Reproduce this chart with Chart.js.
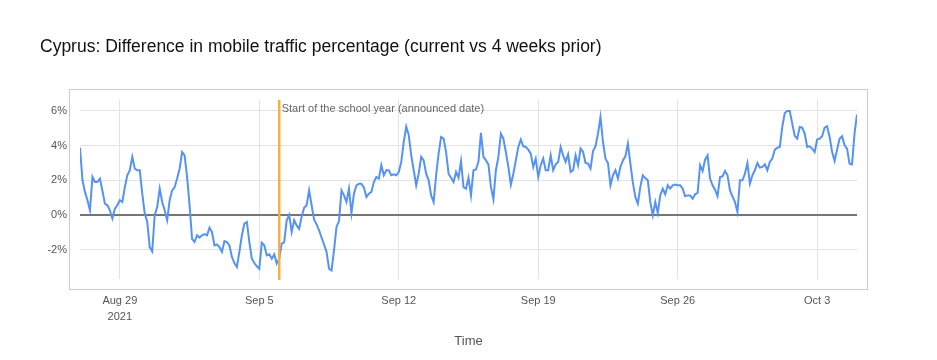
<!DOCTYPE html>
<html>
<head>
<meta charset="utf-8">
<script src="https://cdn.jsdelivr.net/npm/chart.js@4.4.0/dist/chart.umd.min.js"></script>
<style>
  html, body { margin: 0; padding: 0; background: #fff; }
  #wrap { width: 937px; height: 360px; }
</style>
</head>
<body>
<div id="wrap"><canvas id="chart" width="937" height="360"></canvas></div>
<script>
// days counted from Aug 29 2021 00:00; one reading every 3 hours starting Aug 27
const seriesStartDay = -2;
const stepDays = 0.125;

const traffic = [
  3.88, 2.0, 1.33, 0.85, 0.27, 2.2, 1.9, 1.9, 2.1, 1.4, 0.65, 0.56, 0.27, -0.2, 0.37, 0.56,
  0.85, 0.75, 1.6, 2.29, 2.58, 3.35, 2.67, 2.58, 2.58, 1.23, 0.08, -0.4, -1.85, -2.1, 0, 0.46,
  1.52, 0.75, 0.27, -0.3, 0.85, 1.42, 1.6, 2.1, 2.67, 3.63, 3.44, 2.2, 0.56, -1.37, -1.56, -1.17,
  -1.3, -1.17, -1.1, -1.17, -0.73, -0.98, -1.75, -1.7, -1.85, -2.13, -1.5, -1.56, -1.75, -2.42, -2.77, -3.0,
  -2.13, -1.17, -0.5, -0.4, -1.56, -2.52, -2.77, -2.96, -3.1, -1.6, -1.75, -2.33, -2.27, -2.52, -2.27, -2.8,
  -2.52, -1.65, -1.56, -0.3, 0, -0.98, -0.3, -0.6, -0.8, -0.1, 0.42, 0.56, 1.42, 0.56, -0.27, -0.54,
  -0.88, -1.3, -1.7, -2.13, -3.1, -3.2, -2.04, -0.69, -0.35, 1.42, 1.13, 0.75, 1.52, 0.1, 1.23, 1.71,
  1.8, 1.8, 1.58, 1.04, 1.23, 1.33, 1.9, 2.19, 2.1, 2.87, 2.29, 2.58, 2.58, 2.29, 2.35, 2.29,
  2.48, 3.06, 4.21, 5.1, 4.6, 3.44, 2.58, 1.71, 2.38, 3.35, 3.15, 2.38, 2.0, 1.13, 0.75, 2.29,
  3.54, 4.5, 4.4, 3.63, 2.38, 2.15, 1.9, 2.48, 2.15, 3.1, 1.6, 1.52, 2.15, 1.13, 2.58, 2.62,
  3.06, 4.73, 3.35, 3.15, 2.92, 1.62, 0.9, 2.58, 3.35, 4.69, 4.4, 3.63, 2.77, 1.75, 2.38, 3.15,
  3.92, 4.35, 3.96, 3.92, 3.77, 3.54, 2.77, 3.25, 2.19, 2.87, 3.25, 2.58, 2.58, 3.44, 2.58, 2.92,
  3.06, 3.92, 3.44, 3.06, 3.5, 2.48, 2.58, 3.44, 2.87, 3.83, 3.63, 3.0, 2.96, 2.67, 3.69, 3.96,
  4.69, 5.65, 4.21, 3.25, 3.0, 1.71, 2.29, 2.58, 2.1, 2.77, 3.15, 3.38, 4.12, 2.96, 1.87, 1.04,
  0.65, 1.62, 2.29, 2.13, 2.0, 0.75, -0.02, 0.75, 0.12, 1.13, 1.52, 1.19, 1.71, 1.52, 1.71, 1.75,
  1.71, 1.71, 1.52, 1.08, 1.13, 1.13, 0.94, 1.19, 1.27, 2.87, 2.54, 3.19, 3.44, 2.1, 1.71, 1.46,
  1.08, 2.19, 2.23, 2.54, 2.29, 1.42, 1.08, 0.75, 0.17, 2.0, 2.0, 2.38, 3.0, 1.81, 2.29, 2.58,
  3.0, 2.73, 2.77, 2.92, 2.58, 3.06, 3.25, 3.77, 3.88, 3.92, 5.08, 5.88, 6.0, 6.0, 5.27, 4.56,
  4.4, 5.08, 5.04, 4.69, 3.92, 3.96, 3.83, 3.63, 4.35, 4.4, 4.54, 5.04, 5.12, 4.5, 3.65, 3.12,
  3.77, 4.4, 4.54, 4.02, 3.83, 2.96, 2.92, 4.69, 5.8
];

const tickDays = [0, 7, 14, 21, 28, 35];
const tickLabels = [['Aug 29', '2021'], 'Sep 5', 'Sep 12', 'Sep 19', 'Sep 26', 'Oct 3'];
const yTicks = [-2, 0, 2, 4, 6];

const schoolStartDay = 8;
const schoolLabel = 'Start of the school year (announced date)';
const titleText = 'Cyprus: Difference in mobile traffic percentage (current vs 4 weeks prior)';
const xTitle = 'Time';

const FONT = "'Liberation Sans', Arial, Helvetica, sans-serif";

const points = traffic.map((v, i) => ({ x: seriesStartDay + i * stepDays, y: v }));

// title, frame, school-start marker and axis title
const extras = {
  id: 'extras',
  afterDatasetsDraw(chart) {
    const { ctx, chartArea: a, scales } = chart;
    ctx.save();

    ctx.strokeStyle = '#cccccc';
    ctx.lineWidth = 1;
    ctx.strokeRect(a.left - 11 + 0.5, a.top - 11 + 0.5, a.right - a.left + 21, a.bottom - a.top + 21);

    const sx = scales.x.getPixelForValue(schoolStartDay);
    ctx.strokeStyle = '#f5b13d';
    ctx.lineWidth = 2.5;
    ctx.beginPath();
    ctx.moveTo(sx, a.top);
    ctx.lineTo(sx, a.bottom + 1);
    ctx.stroke();

    ctx.fillStyle = '#666666';
    ctx.font = '11px ' + FONT;
    ctx.textBaseline = 'middle';
    ctx.textAlign = 'left';
    ctx.fillText(schoolLabel, sx + 2.5, a.top + 9);

    ctx.fillStyle = '#111111';
    ctx.font = '17.5px ' + FONT;
    ctx.fillText(titleText, 40, 47);

    ctx.fillStyle = '#555555';
    ctx.font = '13px ' + FONT;
    ctx.textAlign = 'center';
    ctx.fillText(xTitle, (a.left + a.right) / 2, 341);

    ctx.restore();
  }
};

new Chart(document.getElementById('chart'), {
  type: 'line',
  data: {
    datasets: [{
      data: points,
      borderColor: '#5592f4',
      borderWidth: 2,
      pointRadius: 0,
      tension: 0,
      fill: false
    }]
  },
  options: {
    responsive: false,
    animation: false,
    devicePixelRatio: 1,
    layout: { padding: { top: 100, right: 80, bottom: 0, left: 0 } },
    plugins: { legend: { display: false }, tooltip: { enabled: false } },
    scales: {
      x: {
        type: 'linear',
        min: -2,
        max: 37,
        afterBuildTicks(scale) { scale.ticks = tickDays.map(v => ({ value: v })); },
        afterFit(scale) { scale.height = 81; },
        border: { display: false },
        grid: { color: '#e3e3e3', drawTicks: false },
        ticks: {
          padding: 14,
          color: '#555555',
          font: { family: FONT, size: 11, lineHeight: 1.45 },
          maxRotation: 0,
          callback: (v) => tickLabels[tickDays.indexOf(v)]
        }
      },
      y: {
        min: -3.69,
        max: 6.63,
        afterBuildTicks(scale) { scale.ticks = yTicks.map(v => ({ value: v })); },
        afterFit(scale) { scale.width = 80; },
        border: { display: false },
        grid: {
          drawTicks: false,
          color: (c) => c.tick && c.tick.value === 0 ? '#757575' : '#e3e3e3',
          lineWidth: (c) => c.tick && c.tick.value === 0 ? 2 : 1
        },
        ticks: {
          padding: 13,
          color: '#555555',
          font: { family: FONT, size: 11 },
          callback: (v) => v + '%'
        }
      }
    }
  },
  plugins: [extras]
});
</script>
</body>
</html>
